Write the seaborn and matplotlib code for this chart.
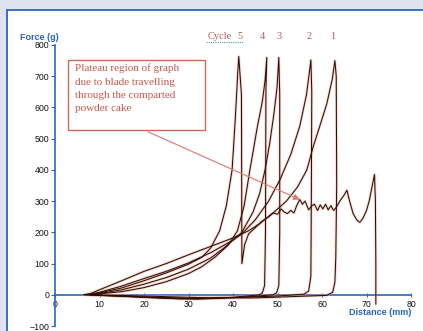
import numpy as np
import pandas as pd
import matplotlib
matplotlib.use("Agg")
import matplotlib.pyplot as plt
from matplotlib.patches import Rectangle
import seaborn as sns

# ---- data ----
c1_dist = [6.5, 8, 10, 15, 20, 25, 30, 35, 40, 43.5, 46, 49, 52, 54.5, 56.6, 58, 59.5, 61.1, 62.3, 62.9, 63.2, 63.3, 63.1, 62.9, 62.4, 61, 55, 45, 35, 25, 15, 6.5]
c1_force = [0, 4, 16, 45, 75, 100, 128, 155, 182, 205, 228, 262, 300, 345, 400, 473, 540, 613, 690, 750, 700, 350, 120, 40, 8, -2, -5, -10, -10, -6, -2, 0]

c2_dist = [7, 10, 15, 20, 25, 30, 35, 40, 42, 45, 48, 50.6, 53, 55, 56.5, 57.3, 57.5, 57.7, 57.6, 57.5, 57.0, 56, 50, 40, 30, 20, 10, 7]
c2_force = [0, 8, 28, 52, 75, 102, 135, 175, 195, 240, 300, 370, 450, 540, 640, 728, 752, 650, 300, 60, 12, 2, -4, -9, -11, -7, -2, 0]

c3_dist = [8, 10, 15, 20, 25, 30, 35, 38, 42, 44.5, 46, 47.2, 48.2, 49.2, 49.9, 50.3, 50.5, 50.5, 50.3, 49.8, 49, 44, 36, 28, 18, 8]
c3_force = [0, 4, 16, 34, 55, 82, 118, 150, 200, 265, 325, 400, 480, 580, 665, 760, 640, 200, 30, 6, 0, -6, -12, -13, -6, 0]

c4_dist = [8, 10, 15, 20, 25, 30, 33, 36, 39, 41, 42.5, 43.8, 45.5, 46.6, 47.2, 47.6, 47.4, 47.3, 47.1, 46.6, 46, 40, 32, 24, 15, 8]
c4_force = [0, 3, 10, 23, 42, 68, 90, 121, 160, 205, 285, 400, 540, 620, 685, 760, 660, 200, 30, 6, 0, -8, -14, -11, -5, 0]

c5_dist = [7.5, 10, 15, 20, 25, 30, 33, 35, 37, 38.5, 39.8, 40.5, 41.1, 41.3, 41.9, 42.0, 42.6, 43.5, 45, 46.5, 48,
           49, 50, 50.8, 51.5, 52.2, 53, 53.7, 54.3, 55, 55.6, 56.2, 57, 57.7, 58.3, 59, 59.6, 60.2, 60.8, 61.4, 62,
           62.6, 63.2, 64, 65, 65.6, 66.2, 67, 67.8, 68.5, 69.2, 70, 70.6, 71.3, 71.8, 72, 72.1, 72.1]
c5_force = [0, 6, 22, 45, 70, 98, 120, 150, 205, 285, 400, 560, 720, 763, 640, 100, 160, 195, 215, 235, 250,
            262, 258, 275, 265, 260, 270, 262, 285, 305, 290, 300, 272, 285, 290, 270, 288, 275, 290, 272, 285,
            270, 280, 300, 320, 335, 300, 260, 240, 232, 245, 270, 300, 350, 385, 300, 100, -30]

cycle_labels = ["5", "4", "3", "2", "1"]
cycle_label_x = [41.6, 46.5, 50.3, 57.1, 62.5]
x_ticks = [0, 10, 20, 30, 40, 50, 60, 70, 80]
y_ticks = [-100, 0, 100, 200, 300, 400, 500, 600, 700, 800]
note_text = "Plateau region of graph\ndue to blade travelling\nthrough the comparted\npowder cake"

frames = []
for name, d, f in [("1", c1_dist, c1_force), ("2", c2_dist, c2_force), ("3", c3_dist, c3_force),
                   ("4", c4_dist, c4_force), ("5", c5_dist, c5_force)]:
    frames.append(pd.DataFrame({"cycle": name, "distance": d, "force": f}))
df = pd.concat(frames, ignore_index=True)

# ---- figure ----
sns.set_style("white")
plt.rcParams["font.family"] = ["Liberation Sans", "DejaVu Sans"]

W, H = 423, 331
fig = plt.figure(figsize=(W / 100, H / 100), dpi=100)
fig.patch.set_facecolor("#dfe3f0")

# white panel as a background axes
bg = fig.add_axes([0, 0, 1, 1], zorder=-5)
bg.set_xlim(0, W)
bg.set_ylim(H, 0)
bg.axis("off")
bg.add_patch(Rectangle((7, 10), W, H, facecolor="white", edgecolor="#3b6cc0", lw=1.4))

ax = fig.add_axes([55 / W, 5 / H, (411 - 55) / W, (326 - 45) / H], zorder=1)
ax.set_facecolor("none")

blue = "#2a64c4"
sns.lineplot(data=df, x="distance", y="force", units="cycle", estimator=None, sort=False,
             color="#f0a08a", lw=2.0, alpha=0.45, ax=ax, legend=False)
sns.lineplot(data=df, x="distance", y="force", units="cycle", estimator=None, sort=False,
             color="#2a0f08", lw=0.75, ax=ax, legend=False)

ax.set_xlim(0, 80)
ax.set_ylim(-100, 800)
ax.set_xticks(x_ticks)
ax.set_yticks(y_ticks)
ax.set_xlabel("")
ax.set_ylabel("")
for s in ["top", "right"]:
    ax.spines[s].set_visible(False)
ax.spines["left"].set_color(blue)
ax.spines["left"].set_linewidth(1.2)
ax.spines["bottom"].set_position(("data", 0))
ax.spines["bottom"].set_color(blue)
ax.spines["bottom"].set_linewidth(1.2)
ax.spines["bottom"].set_zorder(1)
ax.tick_params(axis="y", direction="out", length=3, width=0.8, color=blue,
               labelsize=6.3, labelcolor="#151515", pad=1)
ax.tick_params(axis="x", direction="inout", length=3, width=0.8, color=blue,
               labelsize=6.3, labelcolor="#151515", pad=2)
ax.tick_params(left=True, bottom=True)

ax.text(-7.9, 825, "Force (g)", color=blue, fontsize=6.5, fontweight="bold",
        ha="left", va="center", clip_on=False)
ax.text(80, -57, "Distance (mm)", color=blue, fontsize=6.5, fontweight="bold",
        ha="right", va="center", clip_on=False)

# annotation box
serif = ["Liberation Serif", "DejaVu Serif"]
red = "#c4574a"
ax.add_patch(Rectangle((2.9, 527), 33.7 - 2.9, 751 - 527, fill=False, edgecolor="#cc6a58",
                       lw=1.0, zorder=3))
ax.text(4.6, 740, note_text, family=serif, fontsize=8, color=red, ha="left", va="top",
        linespacing=1.62, zorder=3)
ax.annotate("", xy=(55, 305), xytext=(20.9, 522),
            arrowprops=dict(arrowstyle="-|>", color="#d9786a", lw=0.8, mutation_scale=9,
                            shrinkA=0, shrinkB=0), zorder=4)

# cycle labels
ax.text(37.1, 828, "Cycle", family=serif, fontsize=7.5, color=red, ha="center", va="center", clip_on=False)
ax.plot([34.0, 42.2], [810, 810], color="#3aa7a0", lw=0.8, ls=(0, (1, 1)), clip_on=False)
for lab, xp in zip(cycle_labels, cycle_label_x):
    ax.text(xp, 828, lab, family=serif, fontsize=7.5, color=red, ha="center", va="center", clip_on=False)

fig.savefig("out.png", dpi=100, facecolor=fig.get_facecolor())
